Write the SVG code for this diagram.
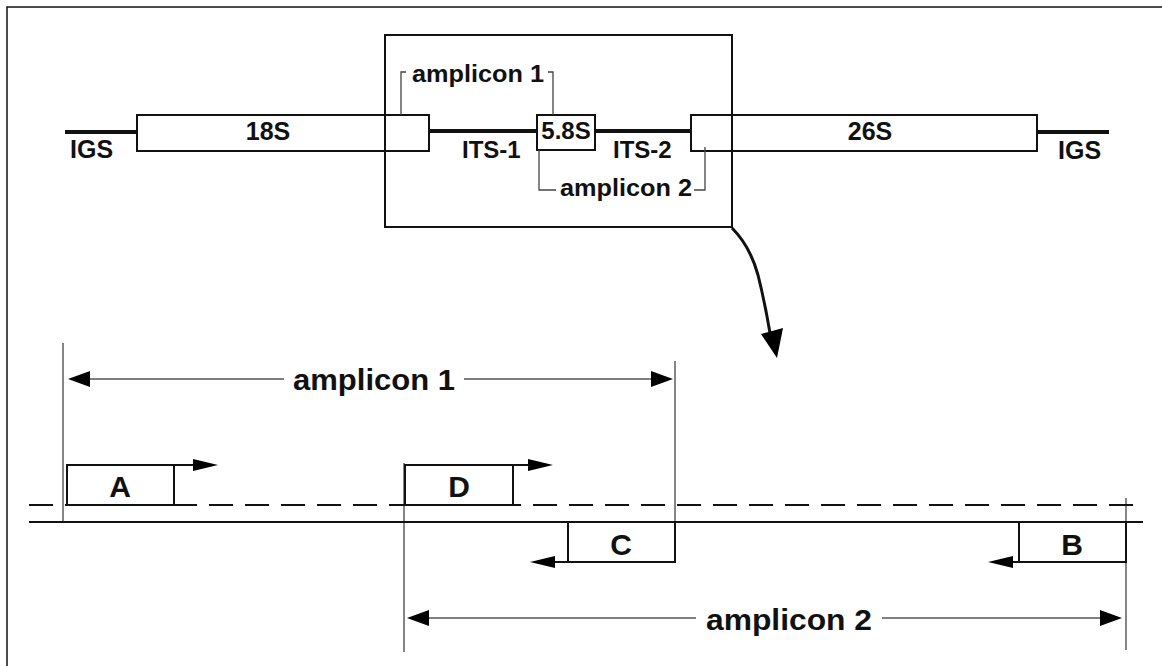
<svg xmlns="http://www.w3.org/2000/svg" width="1162" height="666" viewBox="0 0 1162 666">
<style>
text{font-family:"Liberation Sans",Arial,sans-serif;font-weight:bold;fill:#111}
.sm{font-size:24px}
.lg{font-size:30px}
.box{fill:#fff;stroke:#111;stroke-width:2}
.thick{stroke:#111;stroke-width:4;fill:none}
.thin{stroke:#444;stroke-width:1.3;fill:none}
.dim{stroke:#555;stroke-width:1.5;fill:none}
.head{fill:#000;stroke:none}
</style>
<rect width="1162" height="666" fill="#fff"/>
<path d="M7,666 V7 H1162" fill="none" stroke="#111" stroke-width="1.5"/>

<g id="top-map">
  <line class="thick" x1="65" y1="132" x2="137" y2="132"/>
  <line class="thick" x1="429" y1="131" x2="537" y2="131"/>
  <line class="thick" x1="595" y1="131" x2="691" y2="131"/>
  <line class="thick" x1="1037" y1="132" x2="1109" y2="132"/>
</g>
<g id="n18S"><rect class="box" x="137" y="115" width="292" height="36"/><text class="sm" x="268" y="140" text-anchor="middle" style="font-size:25px">18S</text></g>
<g id="n58S"><rect class="box" x="537" y="115" width="58" height="35"/><text class="sm" x="566" y="139" text-anchor="middle">5.8S</text></g>
<g id="n26S"><rect class="box" x="691" y="115" width="346" height="36"/><text class="sm" x="870" y="140" text-anchor="middle" style="font-size:25px">26S</text></g>
<g id="labels-top">
  <text class="sm" x="70" y="158" style="font-size:25px">IGS</text>
  <text class="sm" x="1058" y="159" style="font-size:25px">IGS</text>
  <text class="sm" x="462" y="158">ITS-1</text>
  <text class="sm" x="613" y="158">ITS-2</text>
</g>
<g id="zoom-box"><rect x="385" y="35" width="347" height="192" fill="none" stroke="#111" stroke-width="2"/></g>
<g id="amp1-small">
  <path class="thin" d="M401,115 V72 H406 M548,72 H553 V115"/>
  <text class="sm" x="478" y="82" text-anchor="middle" textLength="132" lengthAdjust="spacingAndGlyphs">amplicon 1</text>
</g>
<g id="amp2-small">
  <path class="thin" d="M539,150 V190 H556 M694,190 H705 V147"/>
  <text class="sm" x="626" y="196" text-anchor="middle" textLength="132" lengthAdjust="spacingAndGlyphs">amplicon 2</text>
</g>

<g id="connectors">
  <path d="M732,228 Q750,246 758,275 Q765,303 770,333" fill="none" stroke="#111" stroke-width="3"/>
  <polygon class="head" points="761,334 783,328 777,358"/>
  <!-- guides -->
  <line class="thin" x1="63" y1="343" x2="63" y2="523"/>
  <line class="thin" x1="675" y1="361" x2="675" y2="523"/>
  <line class="thin" x1="404" y1="463" x2="404" y2="652"/>
  <line class="thin" x1="1126" y1="498" x2="1126" y2="650"/>
  <!-- strands -->
  <line x1="29" y1="505" x2="1140" y2="505" stroke="#111" stroke-width="2" stroke-dasharray="24,12"/>
  <line x1="29" y1="522" x2="1143" y2="522" stroke="#111" stroke-width="2"/>
  <!-- amplicon 1 dimension -->
  <path class="dim" d="M88,379 H284 M464,379 H652"/>
  <polygon class="head" points="68,379 90,371 90,387"/>
  <polygon class="head" points="673,379 651,371 651,387"/>
  <!-- amplicon 2 dimension -->
  <path class="dim" d="M427,618 H696 M882,618 H1101"/>
  <polygon class="head" points="407,618 429,610 429,626"/>
  <polygon class="head" points="1122,618 1100,610 1100,626"/>
</g>
<g id="amp1-label"><text class="lg" x="374" y="390" text-anchor="middle" textLength="162" lengthAdjust="spacingAndGlyphs">amplicon 1</text></g>
<g id="amp2-label"><text class="lg" x="789" y="630" text-anchor="middle" textLength="166" lengthAdjust="spacingAndGlyphs">amplicon 2</text></g>

<g id="primerA">
  <rect class="box" x="67" y="465" width="107" height="40" fill="none" style="fill:none"/>
  <line x1="174" y1="465" x2="195" y2="465" stroke="#111" stroke-width="2"/>
  <polygon class="head" points="218,465 193,459 193,471"/>
  <text class="lg" x="120" y="497" text-anchor="middle">A</text>
</g>
<g id="primerD">
  <rect class="box" x="405" y="465" width="108" height="40" style="fill:none"/>
  <line x1="513" y1="465" x2="530" y2="465" stroke="#111" stroke-width="2"/>
  <polygon class="head" points="553,465 528,459 528,471"/>
  <text class="lg" x="459" y="497" text-anchor="middle">D</text>
</g>
<g id="primerC">
  <rect class="box" x="568" y="522" width="107" height="40" style="fill:none"/>
  <line x1="568" y1="562" x2="552" y2="562" stroke="#111" stroke-width="2"/>
  <polygon class="head" points="530,562 555,556 555,568"/>
  <text class="lg" x="621" y="555" text-anchor="middle">C</text>
</g>
<g id="primerB">
  <rect class="box" x="1019" y="522" width="107" height="40" style="fill:none"/>
  <line x1="1019" y1="562" x2="1010" y2="562" stroke="#111" stroke-width="2"/>
  <polygon class="head" points="988,562 1013,556 1013,568"/>
  <text class="lg" x="1072" y="555" text-anchor="middle">B</text>
</g>
</svg>
